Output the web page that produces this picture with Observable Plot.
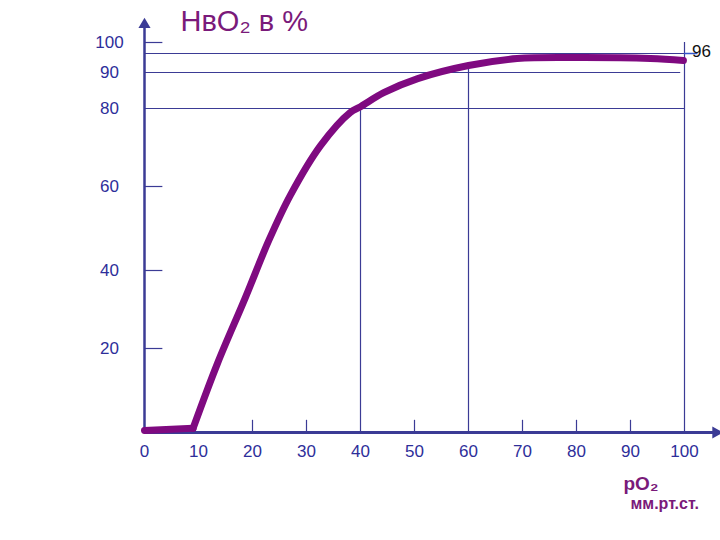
<!DOCTYPE html>
<html>
<head>
<meta charset="utf-8">
<script src="https://cdn.jsdelivr.net/npm/d3@7"></script>
<script src="https://cdn.jsdelivr.net/npm/@observablehq/plot@0.6"></script>
<style>
  html, body { margin: 0; padding: 0; background: #ffffff; }
  svg { display: block; }
</style>
</head>
<body>
<div id="chart"></div>
<script>
// Oxygen dissociation curve: pO2 (mm Hg) vs HbO2 (%)
const basePO2 = [0, 9.0];
const baseHb = [0.5, 1.0];
const curvePO2 = [9.0, 13.5, 18.7, 23.0, 27.0, 32.6, 38.1, 40, 44.3, 50.6, 60, 69, 81.3, 93.7, 99.8];
const curveHb  = [1.0, 16.4, 33.1, 47.1, 57.9, 70.5, 79.0, 80.5, 84.4, 88.3, 92.2, 94.4, 94.7, 94.4, 93.8];

const xTickLabels = ["0", "10", "20", "30", "40", "50", "60", "70", "80", "90", "100"];
const xTickValues = [0, 10, 20, 30, 40, 50, 60, 70, 80, 90, 100];
const xShortTicks = [20, 30, 50, 70, 80, 90];
const yTickValues = [20, 40, 60, 80, 90, 100];
const yTickLabels = ["20", "40", "60", "80", "90", "100"];
const yShortTicks = [20, 40, 60, 100];

// guide lines (value read-outs)
const guideHy = [96, 90, 80];
const guideHx2 = [101, 99.3, 100];
const guideVx = [40, 60, 100];
const guideVy2 = [80, 92.2, 100];

// hand-drawn (non-uniform) vertical axis: piecewise scale
const yDomain = [0, 20, 40, 60, 80, 90, 96, 100];
const yRange  = [432, 348, 270, 186, 108, 72, 53, 42];

const axisColor = "#3b3b95";
const labelColor = "#2e2e9a";
const curveColor = "#7f0a80";
const titleColor = "#7a1a7a";
const font = "'Liberation Sans', Arial, sans-serif";

const base = basePO2.map((x, i) => ({x, y: baseHb[i]}));
const curve = curvePO2.map((x, i) => ({x, y: curveHb[i]}));
const hLines = guideHy.map((y, i) => ({y, x2: guideHx2[i]}));
const vLines = guideVx.map((x, i) => ({x, y2: guideVy2[i]}));
const xLabels = xTickValues.map((v, i) => ({v, t: xTickLabels[i]}));
const yLabels = yTickValues.map((v, i) => ({v, t: yTickLabels[i]}));

const chart = Plot.plot({
  width: 720,
  height: 540,
  margin: 0,
  style: {background: "#ffffff", fontFamily: font},
  x: {type: "linear", domain: [0, 100], range: [144, 684], axis: null},
  y: {type: "linear", domain: yDomain, range: yRange, axis: null},
  marks: [
    // guide lines
    Plot.ruleY(hLines, {y: "y", x1: 0, x2: "x2", stroke: axisColor, strokeWidth: 1.2}),
    Plot.ruleX(vLines, {x: "x", y1: 0, y2: "y2", stroke: axisColor, strokeWidth: 1.2}),
    // short ticks
    Plot.ruleX(xShortTicks, {x: d => d, y1: 0, y2: 2.9, stroke: axisColor, strokeWidth: 1.2}),
    Plot.ruleY(yShortTicks, {y: d => d, x1: 0, x2: 3.4, stroke: axisColor, strokeWidth: 1.2}),
    Plot.ruleY([96], {y: d => d, x1: 100, x2: 102.5, stroke: "#3355cc", strokeWidth: 1.5}),
    // axes with filled arrowheads
    Plot.ruleY([0], {y: d => d, x1: 0, x2: 105.5, stroke: axisColor, strokeWidth: 3}),
    Plot.ruleX([0], {x: d => d, y1: 0, y2: 106, stroke: axisColor, strokeWidth: 2.5}),
    Plot.dot([0], {x: 105.8, y: 0, symbol: "triangle", r: 4.5, rotate: 90, fill: axisColor, stroke: "none"}),
    Plot.dot([0], {x: 0, y: 106.5, symbol: "triangle", r: 4.5, fill: axisColor, stroke: "none"}),
    // curve
    Plot.line(base, {x: "x", y: "y", stroke: curveColor, strokeWidth: 7, strokeLinecap: "round"}),
    Plot.line(curve, {x: "x", y: "y", stroke: curveColor, strokeWidth: 7, curve: "catmull-rom", strokeLinejoin: "round"}),
    // tick labels
    Plot.text(xLabels, {x: "v", y: 0, text: "t", dy: 19, fill: labelColor, fontSize: 17, textAnchor: "middle"}),
    Plot.text(yLabels, {x: 0, y: "v", text: "t", dx: -35, fill: labelColor, fontSize: 17, textAnchor: "middle"}),
    Plot.text(["96"], {x: 100, y: 96, text: d => d, dx: 17, dy: -2, fill: "#111111", fontSize: 17, textAnchor: "middle"}),
    // titles
    Plot.text(["НвO₂ в %"], {frameAnchor: "top-left", dx: 180, dy: 21, text: d => d, fill: titleColor, fontSize: 29, textAnchor: "start", lineAnchor: "middle"}),
    Plot.text(["pO₂"], {frameAnchor: "top-left", dx: 623, dy: 483, text: d => d, fill: titleColor, fontSize: 19, fontWeight: "bold", textAnchor: "start", lineAnchor: "middle"}),
    Plot.text(["мм.рт.ст."], {frameAnchor: "top-left", dx: 630, dy: 503, text: d => d, fill: titleColor, fontSize: 16, fontWeight: "bold", textAnchor: "start", lineAnchor: "middle"})
  ]
});

document.getElementById("chart").appendChild(chart);
</script>
</body>
</html>
